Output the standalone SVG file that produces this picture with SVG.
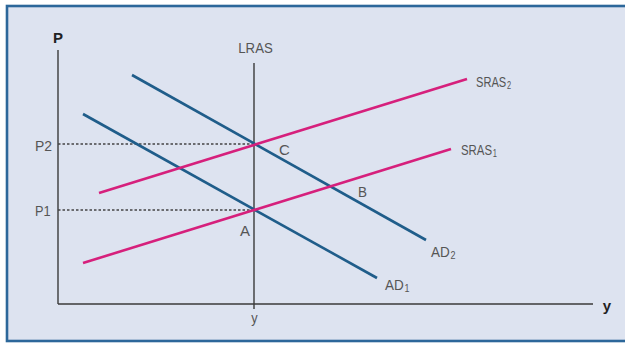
<svg xmlns="http://www.w3.org/2000/svg" width="625" height="343" viewBox="0 0 625 343">
<style>
.ax{stroke:#3a3a3a;stroke-width:1.4;fill:none}
.dash{stroke:#444;stroke-width:1.4;stroke-dasharray:2.5 2;fill:none}
.ad{stroke:#1f5d8a;stroke-width:2.6;fill:none}
.sr{stroke:#d6207c;stroke-width:2.6;fill:none}
text{font-family:"Liberation Sans","DejaVu Sans",sans-serif;fill:#555;font-size:15px}
.b{font-weight:bold;fill:#222}
.s{font-size:10px}
</style>
<rect x="0" y="0" width="625" height="343" fill="#ffffff"/>
<rect x="7" y="6" width="640" height="335" fill="#dde3f0" stroke="#2c679a" stroke-width="2.6"/>
<g id="axes">
<line class="ax" x1="58" y1="50" x2="58" y2="304"/>
<line class="ax" x1="58" y1="304" x2="593" y2="304"/>
<text class="b" x="58" y="43" text-anchor="middle">P</text>
<text class="b" x="607" y="311" text-anchor="middle">y</text>
<text transform="translate(254.5,323) scale(0.85,1)" text-anchor="middle">y</text>
</g>
<g id="LRAS">
<line class="ax" x1="254" y1="63" x2="254" y2="309"/>
<text transform="translate(255.5,53) scale(0.88,1)" text-anchor="middle">LRAS</text>
</g>
<g id="connectors">
<line class="dash" x1="58" y1="144" x2="254" y2="144"/>
<line class="dash" x1="58" y1="210" x2="254" y2="210"/>
<line class="ad" x1="132" y1="75" x2="426" y2="240"/>
<line class="ad" x1="83" y1="114" x2="377" y2="278"/>
<line class="sr" x1="99" y1="193" x2="467" y2="79"/>
<line class="sr" x1="83" y1="263" x2="451" y2="149"/>
</g>
<g id="AD2"><text transform="translate(431,257) scale(0.9,1)">AD<tspan class="s" dx="1" dy="2">2</tspan></text></g>
<g id="AD1"><text transform="translate(385,290) scale(0.9,1)">AD<tspan class="s" dx="1" dy="2">1</tspan></text></g>
<g id="SRAS2"><text transform="translate(476,87) scale(0.74,1)">SRAS<tspan class="s" dx="1" dy="2">2</tspan></text></g>
<g id="SRAS1"><text transform="translate(461,155) scale(0.76,1)">SRAS<tspan class="s" dx="1" dy="2">1</tspan></text></g>
<g id="P2"><text transform="translate(35,151) scale(0.93,1)">P2</text></g>
<g id="P1"><text transform="translate(35,216) scale(0.85,1)">P1</text></g>
<g id="C"><text transform="translate(279,155) scale(1,1)">C</text></g>
<g id="A"><text transform="translate(240,236) scale(1,1)">A</text></g>
<g id="B"><text transform="translate(358,197) scale(0.9,1)">B</text></g>
</svg>
